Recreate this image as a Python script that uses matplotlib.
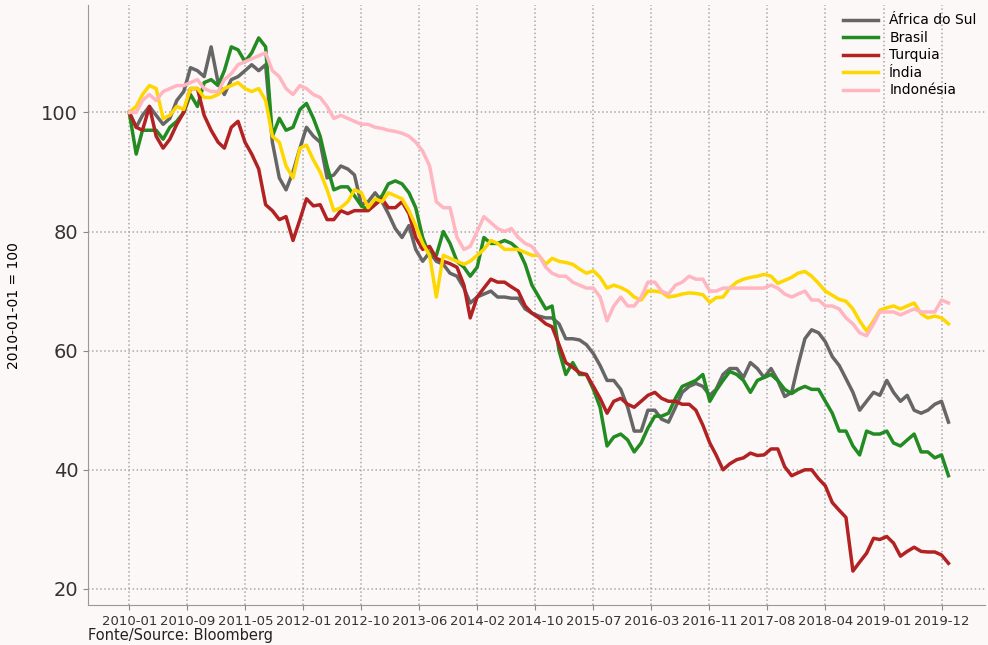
import matplotlib
matplotlib.use('Agg')
import matplotlib.pyplot as plt
import matplotlib.dates as mdates
import numpy as np
import pandas as pd

# monthly readings, 2010-01 .. 2020-01, index 2010-01-01 = 100
africa_do_sul = [
    100, 97.5, 99.5, 101, 99.5, 98, 99, 102, 103.5, 107.5, 107, 106, 111, 105, 103, 105.5, 106, 107, 108, 107, 108,
    95, 89, 87, 90, 94, 97.5, 96, 95, 89, 89.5, 91, 90.5, 89.5, 84.5, 85, 86.5, 85, 83, 80.5, 79,
    81, 77, 75, 76.5, 75, 74.5, 73, 72.5, 70.5, 68, 69, 69.5, 70, 69, 69, 68.8, 68.8, 67, 66.3, 65.8,
    65.5, 65.5, 64.5, 62, 62, 61.8, 61, 59.5, 57.5, 55, 55, 53.5, 50.5, 46.5, 46.5, 50, 50, 48.5, 48, 50.5,
    53, 54, 54.5, 54, 52.5, 53.5, 56, 57, 57, 55.5, 58, 57, 55.5, 57, 55, 52.3, 53, 57.5, 62, 63.5,
    63, 61.5, 59, 57.5, 55.3, 53, 50, 51.5, 53, 52.5, 55, 53, 51.5, 52.5, 50, 49.5, 50, 51, 51.5, 48,
]
brasil = [
    100, 93, 97, 97, 97, 95.5, 97.5, 98.5, 100, 103, 101, 105, 105.5, 104.5, 107, 111, 110.5, 108.5, 110, 112.5, 111,
    96, 99, 97, 97.5, 100.5, 101.5, 99, 96, 91, 87, 87.5, 87.5, 86, 84.3, 83.7, 85, 86, 88, 88.5, 88,
    86.5, 84, 79, 76, 76, 80, 78, 75, 74, 72.5, 74, 79, 78, 78, 78.5, 78, 77, 74.5, 71, 69,
    67, 67.5, 60, 56, 58, 56, 56, 53.5, 50.5, 44, 45.5, 46, 45, 43, 44.5, 47, 49, 49, 49.5, 52,
    54, 54.5, 55, 56, 51.5, 53.3, 55, 56.5, 56, 55, 53, 55, 55.5, 56, 55, 53.5, 52.8, 53.5, 54, 53.5,
    53.5, 51.5, 49.5, 46.5, 46.5, 44, 42.5, 46.5, 46, 46, 46.5, 44.5, 44, 45, 46, 43, 43, 42, 42.5, 39,
]
turquia = [
    100, 97.5, 97, 101, 96, 94, 95.5, 98, 100, 104, 104, 99.5, 97, 95, 94, 97.5, 98.5, 95, 93, 90.5, 84.5,
    83.5, 82, 82.5, 78.5, 82, 85.5, 84.3, 84.5, 82, 82, 83.5, 83, 83.5, 83.5, 83.5, 84.5, 85.5, 84, 84, 85,
    83, 79, 77, 77.5, 75.5, 75, 74.6, 74, 71, 65.5, 69, 70.5, 72, 71.5, 71.5, 70.7, 70, 67.5, 66.3, 65.5,
    64.5, 64, 61, 58, 57.2, 56.3, 56, 54, 52, 49.5, 51.5, 52, 51, 50.5, 51.5, 52.5, 53, 52, 51.5, 51.5,
    51, 51, 50, 47.5, 44.5, 42.5, 40, 41, 41.7, 42, 42.8, 42.4, 42.5, 43.5, 43.5, 40.5, 39, 39.5, 40, 40,
    38.5, 37.3, 34.5, 33.2, 32, 23, 24.5, 26, 28.5, 28.3, 28.8, 27.7, 25.5, 26.3, 27, 26.3, 26.2, 26.2, 25.7, 24.3,
]
india = [
    100, 101, 103, 104.5, 104, 99, 99.5, 101, 100.5, 104, 104, 102.5, 102.5, 103, 104, 104.5, 105, 104, 103.5, 104, 102,
    96, 95, 91, 89, 94, 94.5, 92, 90, 87, 83.5, 84, 85, 87, 86.5, 84, 85.5, 85, 86.5, 86, 85.5,
    83.5, 81, 78, 76, 69, 76, 75.5, 75, 74.5, 75, 76, 77, 78.5, 78, 77, 77, 77, 76.5, 76, 76,
    74.5, 75.5, 75, 74.8, 74.5, 73.7, 73, 73.4, 72.3, 70.5, 71, 70.6, 70, 69, 68.5, 70, 70, 69.8, 69, 69.2,
    69.5, 69.7, 69.6, 69.4, 68.1, 68.9, 69, 70.5, 71.5, 72, 72.3, 72.5, 72.8, 72.5, 71.3, 71.8, 72.3, 73, 73.3, 72.5,
    71.3, 70, 69.3, 68.6, 68.3, 67, 65, 63.3, 65, 66.8, 67.2, 67.5, 67, 67.5, 68, 66.2, 65.5, 65.8, 65.5, 64.5,
]
indonesia = [
    100, 100, 102, 103, 102, 103.5, 104, 104.5, 104.5, 105, 105.5, 104, 103.5, 103.5, 105.5, 106.5, 108, 108.5, 109, 109.5, 110,
    107, 106, 104, 103, 104.5, 104, 103, 102.5, 101, 99, 99.5, 99, 98.5, 98, 98, 97.5, 97.3, 97, 96.8, 96.5,
    96, 95, 93.5, 91, 85, 84, 84, 79, 77, 77.5, 80, 82.5, 81.5, 80.5, 80, 80.5, 79, 78, 77.5, 76,
    74, 73, 72.5, 72.5, 71.5, 71, 70.5, 70.5, 69, 65, 67.5, 69, 67.5, 67.5, 69, 71.5, 71.5, 70, 69.5, 71,
    71.5, 72.5, 72, 72, 70, 70, 70.5, 70.5, 70.5, 70.5, 70.5, 70.5, 70.5, 71, 70.5, 69.5, 69, 69.5, 70, 68.5,
    68.5, 67.5, 67.5, 67, 65.5, 64.5, 63, 62.5, 64.5, 66.5, 66.5, 66.5, 66, 66.5, 67, 66.5, 66.5, 66.5, 68.5, 68,
]

series = [
    ('África do Sul', africa_do_sul, '#666666'),
    ('Brasil', brasil, '#228b22'),
    ('Turquia', turquia, '#b22222'),
    ('Índia', india, '#ffd700'),
    ('Indonésia', indonesia, '#ffb6c1'),
]
tick_labels = ['2010-01', '2010-09', '2011-05', '2012-01', '2012-10', '2013-06', '2014-02', '2014-10',
               '2015-07', '2016-03', '2016-11', '2017-08', '2018-04', '2019-01', '2019-12']

dates = pd.date_range('2010-01-01', periods=len(brasil), freq='MS')

bg = '#fdf8f8'
fig = plt.figure(figsize=(9.88, 6.45), dpi=100, facecolor=bg)
ax = fig.add_axes([0.089, 0.062, 0.908, 0.930], facecolor=bg)

for name, vals, col in series:
    ax.plot(dates, vals, color=col, lw=2.5, label=name)

t0 = mdates.date2num(pd.Timestamp('2010-01-01'))
t1 = mdates.date2num(pd.Timestamp('2019-12-01'))
ticks = np.linspace(t0, t1, len(tick_labels))
step = ticks[1] - ticks[0]
ax.set_xticks(ticks)
ax.set_xticklabels(tick_labels, fontsize=9.5)
ax.set_xlim(t0 - 0.712 * step, t0 + 14.75 * step)
ax.set_ylim(17.3, 118)
ax.set_yticks([20, 40, 60, 80, 100])
ax.tick_params(axis='y', labelsize=14, colors='#333333')
ax.tick_params(axis='x', colors='#333333')
ax.tick_params(color='#888888')

ax.grid(True, ls=':', color='#a8a8a8', lw=1.1)
for s in ['top', 'right']:
    ax.spines[s].set_visible(False)
for s in ['left', 'bottom']:
    ax.spines[s].set_color('#999999')

ax.set_ylabel('2010-01-01 = 100', fontsize=10)
ax.yaxis.set_label_coords(-0.075, 0.5)
ax.legend(loc='upper right', frameon=False, fontsize=10, handlelength=2.5,
          borderaxespad=0.2, labelspacing=0.25)
fig.text(0.089, 0.008, 'Fonte/Source: Bloomberg', fontsize=10.5, color='#222222')

fig.savefig('out.png', dpi=100, facecolor=bg)
